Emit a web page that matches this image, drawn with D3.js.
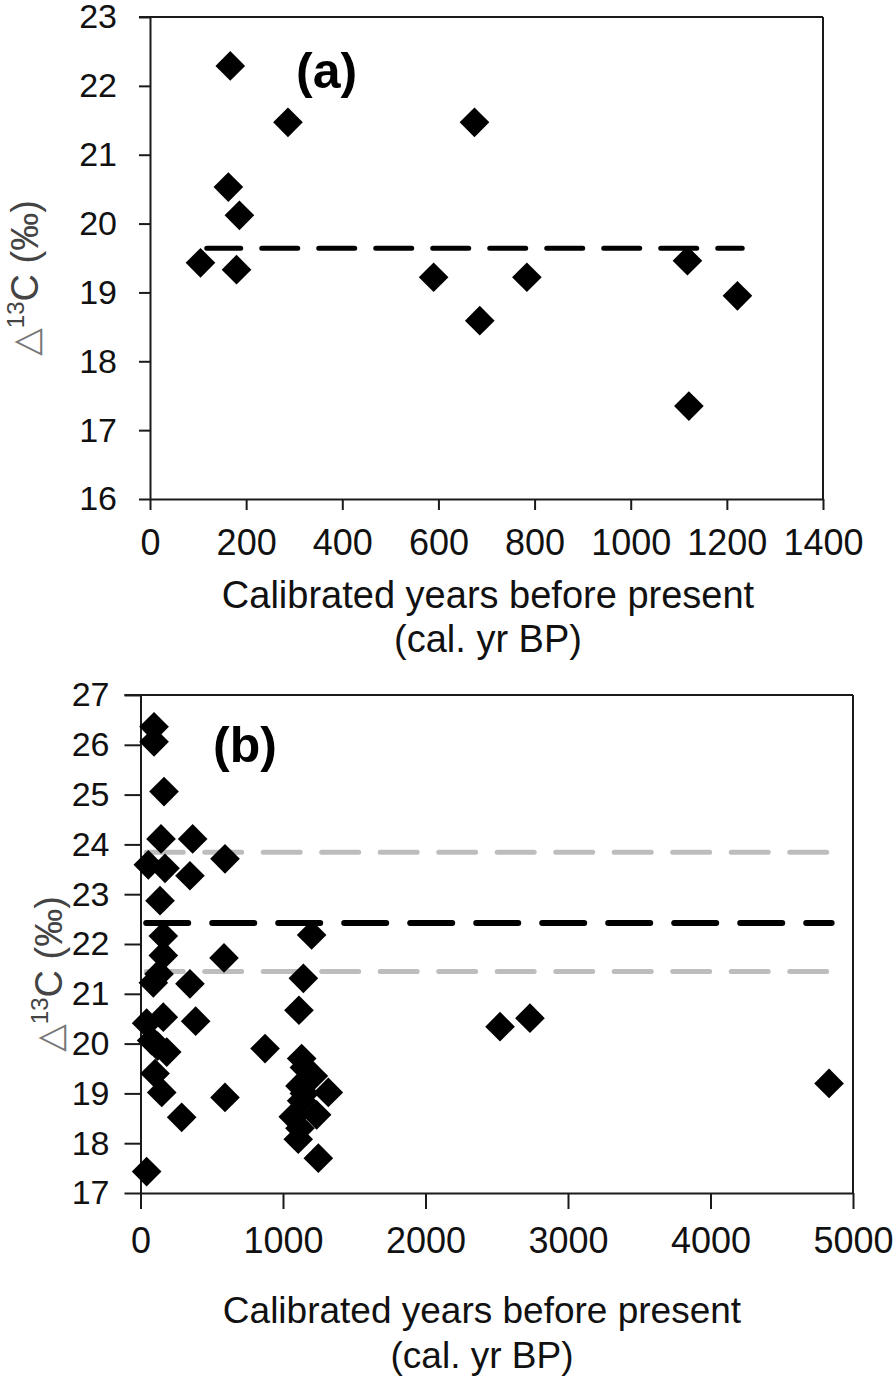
<!DOCTYPE html>
<html>
<head>
<meta charset="utf-8">
<script src="https://cdn.jsdelivr.net/npm/d3@7"></script>
<style>
  html, body { margin: 0; padding: 0; background: #fff; }
  svg { display: block; font-family: "Liberation Sans", Arial, sans-serif; }
</style>
</head>
<body>
<svg id="chart" width="896" height="1379"></svg>
<script>
// ---------- Panel (a) data ----------
const aYears  = [105, 167, 163, 186, 180, 287, 590, 675, 686, 784, 1118, 1121, 1222];
const aValues = [19.43, 22.29, 20.53, 20.12, 19.33, 21.47, 19.22, 21.47, 18.59, 19.22, 19.46, 17.35, 18.95];
const aMean = 19.64;
const aMeanSpan = [118, 1232];
const aXTicks = [0, 200, 400, 600, 800, 1000, 1200, 1400];
const aYTicks = [16, 17, 18, 19, 20, 21, 22, 23];

// ---------- Panel (b) data ----------
const bYears  = [95, 95, 165, 144, 366, 593, 55, 172, 347, 137,
                 160, 1201, 160, 586, 90, 130, 347, 1143, 1112, 43,
                 160, 387, 78, 120, 184, 874, 102, 149, 593, 289,
                 43, 1131, 1150, 1213, 1119, 1150, 1318, 1131, 1236, 1072,
                 1119, 1107, 1248, 2523, 2733, 4832];
const bValues = [26.36, 26.06, 25.06, 24.11, 24.11, 23.71, 23.59, 23.52, 23.37, 22.87,
                 22.16, 22.18, 21.77, 21.72, 21.22, 21.40, 21.20, 21.31, 20.67, 20.41,
                 20.53, 20.45, 20.06, 19.95, 19.83, 19.90, 19.40, 19.02, 18.92, 18.52,
                 17.43, 19.70, 19.52, 19.35, 19.15, 19.00, 19.02, 18.85, 18.57, 18.53,
                 18.30, 18.08, 17.70, 20.34, 20.51, 19.20];
const bMean = 22.42;
const bUpper = 23.84;
const bLower = 21.45;
const bLineSpan = [40, 4850];
const bXTicks = [0, 1000, 2000, 3000, 4000, 5000];
const bYTicks = [17, 18, 19, 20, 21, 22, 23, 24, 25, 26, 27];

const svg = d3.select("#chart");
const AXIS = "#1a1a1a";

function panel(cfg) {
  const g = svg.append("g");
  const x = d3.scaleLinear().domain(cfg.xDomain).range(cfg.xRange);
  const y = d3.scaleLinear().domain(cfg.yDomain).range(cfg.yRange);

  // frame top & right
  g.append("line").attr("x1", cfg.xRange[0] - cfg.yTick).attr("x2", cfg.xRange[1])
    .attr("y1", cfg.yRange[1]).attr("y2", cfg.yRange[1])
    .attr("stroke", AXIS).attr("stroke-width", 2);
  g.append("line").attr("x1", cfg.xRange[1]).attr("x2", cfg.xRange[1])
    .attr("y1", cfg.yRange[1]).attr("y2", cfg.yRange[0])
    .attr("stroke", AXIS).attr("stroke-width", 2);

  const xAxis = g.append("g").attr("transform", `translate(0,${cfg.yRange[0]})`)
    .call(d3.axisBottom(x).tickValues(cfg.xTicks).tickFormat(d3.format("d"))
      .tickSize(cfg.xTick).tickSizeOuter(0).tickPadding(cfg.xPad));
  const yAxis = g.append("g").attr("transform", `translate(${cfg.xRange[0]},0)`)
    .call(d3.axisLeft(y).tickValues(cfg.yTicks).tickFormat(d3.format("d"))
      .tickSize(cfg.yTick).tickSizeOuter(0).tickPadding(cfg.yPad));
  [xAxis, yAxis].forEach(ax => {
    ax.selectAll("path.domain").attr("stroke", AXIS).attr("stroke-width", 2);
    ax.selectAll(".tick line").attr("stroke", AXIS).attr("stroke-width", 2);
    ax.selectAll("text").attr("fill", "#111").style("font-family", "'Liberation Sans', Arial, sans-serif");
  });
  xAxis.selectAll("text").style("font-size", "36px");
  yAxis.selectAll("text").style("font-size", "34px");

  // reference lines
  cfg.lines.forEach(l => {
    g.append("line")
      .attr("x1", x(l.span[0])).attr("x2", x(l.span[1]))
      .attr("y1", y(l.value)).attr("y2", y(l.value))
      .attr("stroke", l.color).attr("stroke-width", l.width)
      .attr("stroke-linecap", "round")
      .attr("stroke-dasharray", l.dash).attr("stroke-dashoffset", l.offset || 0);
  });

  // points
  const sym = d3.symbol().type(d3.symbolSquare).size(cfg.symSize);
  g.append("g").selectAll("path").data(cfg.xs.map((d, i) => [d, cfg.ys[i]]))
    .join("path")
    .attr("d", sym)
    .attr("transform", d => `translate(${x(d[0])},${y(d[1])}) rotate(45)`)
    .attr("fill", "#000");

  // panel label
  g.append("text").attr("x", cfg.label.x).attr("y", cfg.label.y)
    .attr("font-size", 50).attr("font-weight", "bold").attr("fill", "#000")
    .text(cfg.label.text);

  // x title
  const xt = g.append("text").attr("text-anchor", "middle").attr("font-size", cfg.xTitle.size).attr("fill", "#111");
  xt.append("tspan").attr("x", cfg.xTitle.x).attr("y", cfg.xTitle.y1).text("Calibrated years before present");
  xt.append("tspan").attr("x", cfg.xTitle.x).attr("y", cfg.xTitle.y2).text("(cal. yr BP)");

  // y title
  const yt = g.append("text").attr("text-anchor", "middle").attr("font-size", 38).attr("fill", "#444")
    .attr("transform", `translate(${cfg.yTitle.x},${cfg.yTitle.y}) rotate(-90)`);
  yt.append("tspan").attr("fill", "#777").style("font-family", "'DejaVu Sans', sans-serif").attr("font-size", 36).text("\u25B3");
  yt.append("tspan").attr("font-size", 24).attr("dy", -14).text("13");
  yt.append("tspan").attr("dy", 14).text("C (\u2030)");
}

panel({
  xDomain: [0, 1400], xRange: [150, 823],
  yDomain: [16, 23], yRange: [499, 17],
  xTicks: aXTicks, yTicks: aYTicks,
  xTick: 11, xPad: 19, yTick: 11, yPad: 22,
  symSize: 440,
  xs: aYears, ys: aValues,
  lines: [{ value: aMean, span: aMeanSpan, color: "#000", width: 5, dash: "36 21", offset: 2 }],
  label: { text: "(a)", x: 296, y: 88 },
  xTitle: { x: 488, y1: 608, y2: 652, size: 38 },
  yTitle: { x: 38, y: 278 }
});

panel({
  xDomain: [0, 5000], xRange: [140.5, 853],
  yDomain: [17, 27], yRange: [1193, 695],
  xTicks: bXTicks, yTicks: bYTicks,
  xTick: 16, xPad: 18, yTick: 16, yPad: 15,
  symSize: 440,
  xs: bYears, ys: bValues,
  lines: [
    { value: bUpper, span: bLineSpan, color: "#bdbdbd", width: 5, dash: "37 21.5", offset: 0 },
    { value: bLower, span: bLineSpan, color: "#bdbdbd", width: 5, dash: "37 21.5", offset: 0 },
    { value: bMean, span: bLineSpan, color: "#000", width: 6, dash: "42 24", offset: 0 }
  ],
  label: { text: "(b)", x: 213, y: 762 },
  xTitle: { x: 482, y1: 1323, y2: 1368, size: 37 },
  yTitle: { x: 62, y: 974 }
});
</script>
</body>
</html>
